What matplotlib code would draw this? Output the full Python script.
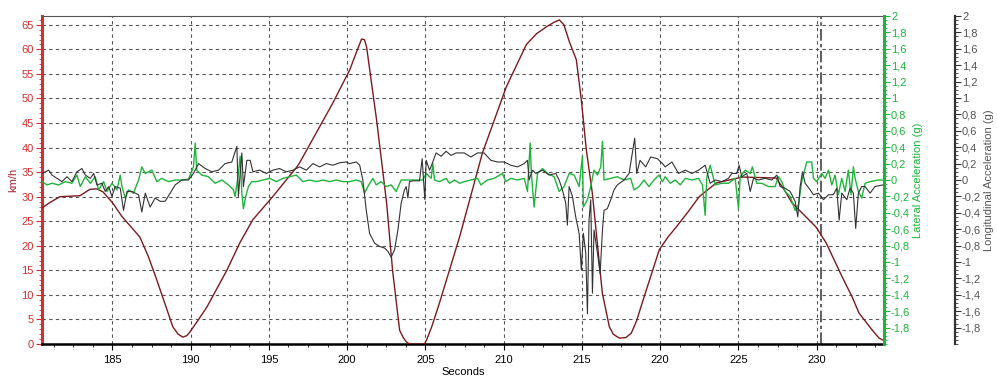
import matplotlib
matplotlib.use("Agg")
from matplotlib import pyplot as plt
from matplotlib.ticker import MultipleLocator, FuncFormatter
import numpy as np

plt.rcParams['font.family'] = ['Liberation Sans', 'DejaVu Sans']

# speed trace (km/h)
speed_t = [180.5, 181.0, 181.65, 182.93, 183.56, 184.0, 184.39, 185.0, 185.6, 186.75,
           187.3, 187.84, 188.4, 188.86, 189.2, 189.5, 189.75, 189.94, 190.4, 191.03,
           192.31, 193.14, 193.97, 195.24, 196.77, 196.96, 199.07, 200.16, 200.6, 200.92,
           201.1, 201.24, 201.88, 202.52, 202.9, 203.35, 203.6, 203.79, 204.0, 204.94,
           205.07, 205.4, 205.9, 207.18, 208.64, 210.17, 211.45, 212.1, 212.73, 213.2,
           213.56, 213.85, 214.2, 214.64, 214.96, 215.28, 215.66, 215.98, 216.3, 216.75,
           217.0, 217.39, 217.8, 218.15, 218.5, 218.85, 219.94, 220.5, 221.02, 221.8,
           222.49, 223.58, 225.24, 227.41, 227.9, 228.43, 229.06, 229.96, 230.6, 231.62,
           232.26, 232.7, 233.53, 233.98, 234.23]
speed = [27.7, 28.8, 30.0, 30.2, 31.5, 31.6, 31.0, 28.8, 26.0, 21.8,
         17.8, 13.0, 7.8, 3.5, 2.0, 1.4, 1.7, 2.4, 4.5, 7.5,
         15.0, 20.6, 25.3, 30.0, 36.0, 36.9, 49.0, 55.8, 59.5, 62.1,
         62.0, 60.5, 45.6, 28.7, 15.0, 2.8, 1.2, 0.4, 0.0, 0.0,
         0.8, 3.5, 8.4, 21.8, 38.9, 52.4, 61.0, 63.2, 64.6, 65.5,
         66.0, 65.0, 61.5, 57.9, 49.7, 39.5, 30.8, 20.6, 10.4, 3.5,
         2.0, 1.2, 1.3, 2.2, 4.8, 8.4, 19.2, 21.8, 23.8, 27.0,
         30.0, 32.8, 34.0, 33.8, 31.5, 28.7, 26.7, 23.8, 20.6, 13.7,
         9.6, 6.3, 2.9, 1.2, 0.8]

# longitudinal acceleration (g)
lon_t = [180.5, 180.93, 181.14, 181.46, 181.78, 182.1, 182.41, 182.73, 183.05, 183.27,
         183.59, 183.8, 184.01, 184.33, 184.54, 184.76, 184.97, 185.18, 185.5, 185.71,
         185.93, 186.24, 186.67, 186.88, 187.1, 187.41, 187.73, 188.05, 188.37, 188.69,
         189.01, 189.43, 189.86, 190.18, 190.5, 190.93, 191.35, 191.78, 192.2, 192.63,
         192.95, 193.05, 193.27, 193.37, 193.59, 193.8, 193.98, 194.41, 194.83, 195.26,
         195.68, 196.11, 196.54, 196.96, 197.39, 197.81, 198.24, 198.66, 199.09, 199.51,
         199.94, 200.15, 200.58, 200.8, 201.0, 201.22, 201.43, 201.75, 202.07, 202.39,
         202.6, 202.81, 203.03, 203.24, 203.45, 203.66, 203.77, 203.88, 203.98, 204.2,
         204.62, 204.79, 204.88, 204.96, 205.05, 205.26, 205.47, 205.68, 206.0, 206.32,
         206.64, 206.96, 207.48, 207.9, 208.33, 208.75, 209.18, 209.6, 210.03, 210.45,
         210.88, 211.31, 211.52, 211.62, 211.84, 212.05, 212.48, 212.9, 213.33, 213.54,
         213.75, 213.96, 214.07, 214.18, 214.39, 214.6, 214.82, 214.96, 215.09, 215.24,
         215.35, 215.45, 215.56, 215.67, 215.77, 215.99, 216.16, 216.31, 216.41, 216.62,
         216.84, 217.05, 217.26, 217.69, 218.01, 218.22, 218.37, 218.5, 218.71, 219.07,
         219.39, 219.82, 220.14, 220.32, 220.75, 221.17, 221.6, 222.02, 222.45, 222.87,
         223.19, 223.51, 223.94, 224.36, 224.58, 224.89, 225.04, 225.21, 225.53, 225.75,
         225.96, 226.28, 226.7, 227.13, 227.45, 227.66, 227.98, 228.3, 228.62, 228.79,
         228.94, 229.09, 229.26, 229.58, 229.79, 230.11, 230.43, 230.75, 231.06, 231.28,
         231.43, 231.6, 231.92, 232.13, 232.34, 232.49, 232.66, 232.87, 233.09, 233.41,
         233.72, 234.23]
lon_g = [0.08, 0.12, 0.06, 0.02, -0.02, 0.04, -0.02, 0.10, 0.14, 0.06,
         0.02, 0.08, -0.06, -0.04, -0.14, -0.08, -0.20, -0.08, -0.10, -0.37,
         -0.14, -0.14, -0.18, -0.39, -0.16, -0.33, -0.22, -0.26, -0.26, -0.16,
         -0.06, 0.0, 0.0, 0.08, 0.20, 0.14, 0.10, 0.12, 0.20, 0.22,
         0.41, -0.20, 0.33, -0.08, 0.24, 0.24, 0.10, 0.12, 0.08, 0.12,
         0.14, 0.10, 0.12, 0.16, 0.12, 0.20, 0.16, 0.20, 0.18, 0.21,
         0.22, 0.20, 0.22, 0.18, 0.0, -0.37, -0.65, -0.77, -0.81, -0.83,
         -0.87, -0.94, -0.85, -0.61, -0.28, -0.12, -0.08, -0.22, -0.02, -0.01,
         -0.01, 0.26, 0.0, -0.24, 0.24, 0.12, 0.22, 0.33, 0.29, 0.35,
         0.30, 0.33, 0.33, 0.28, 0.33, 0.33, 0.24, 0.22, 0.22, 0.18,
         0.16, 0.20, 0.24, 0.0, 0.12, 0.08, 0.12, 0.06, 0.08, 0.0,
         -0.12, -0.28, -0.55, -0.08, -0.20, -0.45, -0.65, -1.10, -0.65, -0.89,
         -1.63, -0.49, -0.24, -1.38, -0.61, -0.89, -1.14, -0.61, -0.37, -0.35,
         -0.24, -0.12, -0.06, 0.0, 0.08, 0.33, 0.51, 0.08, 0.24, 0.16,
         0.28, 0.26, 0.20, 0.16, 0.22, 0.08, 0.12, 0.08, 0.12, 0.18,
         -0.04, 0.0, -0.02, 0.02, 0.08, 0.08, 0.18, 0.04, 0.08, -0.14,
         0.02, 0.0, 0.02, 0.0, 0.06, -0.08, -0.10, -0.14, -0.26, -0.45,
         -0.08, 0.10, -0.04, -0.12, -0.18, -0.16, -0.24, -0.18, -0.18, -0.10,
         -0.49, -0.16, -0.24, -0.10, -0.16, -0.59, -0.16, -0.08, -0.08, -0.16,
         -0.08, -0.06]

# lateral acceleration (g)
lat_t = [180.5, 180.82, 181.14, 181.56, 181.99, 182.41, 182.73, 182.95, 183.27, 183.59,
         183.9, 184.12, 184.44, 184.65, 184.97, 185.29, 185.5, 185.61, 185.82, 186.03,
         186.35, 186.67, 186.88, 187.1, 187.31, 187.52, 187.84, 188.16, 188.59, 189.01,
         189.44, 189.86, 190.18, 190.29, 190.39, 190.71, 191.14, 191.56, 191.99, 192.41,
         192.73, 192.84, 193.05, 193.16, 193.27, 193.37, 193.52, 193.69, 193.9, 194.2,
         194.62, 195.05, 195.47, 195.9, 196.32, 196.75, 197.17, 197.6, 198.03, 198.45,
         198.88, 199.3, 199.73, 200.15, 200.58, 200.9, 201.11, 201.32, 201.64, 201.86,
         202.17, 202.49, 202.81, 203.13, 203.45, 203.77, 204.62, 204.83, 205.05, 205.37,
         205.47, 205.58, 205.9, 206.32, 206.54, 206.85, 207.18, 207.48, 207.9, 208.33,
         208.54, 208.96, 209.39, 209.92, 210.13, 210.45, 210.88, 211.31, 211.52, 211.69,
         211.77, 211.94, 212.16, 212.48, 212.8, 213.22, 213.54, 213.86, 214.18, 214.5,
         214.82, 215.03, 215.09, 215.35, 215.56, 215.77, 215.99, 216.2, 216.31, 216.41,
         216.84, 217.26, 217.69, 218.11, 218.33, 218.65, 218.96, 219.28, 219.6, 219.92,
         220.14, 220.32, 220.64, 220.96, 221.28, 221.6, 222.02, 222.45, 222.7, 222.87,
         222.98, 223.19, 223.51, 223.94, 224.36, 224.79, 225.0, 225.11, 225.43, 225.75,
         225.89, 226.17, 226.49, 226.92, 227.34, 227.55, 227.77, 227.98, 228.3, 228.62,
         228.83, 229.04, 229.36, 229.68, 229.79, 230.0, 230.32, 230.53, 230.75, 230.96,
         231.17, 231.38, 231.6, 231.81, 232.02, 232.19, 232.34, 232.45, 232.66, 232.87,
         233.09, 233.41, 233.94, 234.23]
lat_g = [-0.02, -0.06, -0.04, -0.06, -0.02, -0.04, 0.06, -0.08, 0.04, -0.04,
         0.04, -0.12, -0.02, -0.14, -0.04, -0.12, 0.06, -0.08, -0.22, -0.12,
         -0.16, 0.0, 0.16, 0.08, 0.10, 0.12, -0.02, 0.02, -0.02, 0.0,
         0.0, 0.01, 0.16, 0.45, 0.12, 0.06, 0.04, -0.04, 0.0, -0.06,
         -0.12, -0.20, 0.08, 0.29, -0.16, -0.35, -0.20, -0.08, -0.02, -0.02,
         0.0, 0.02, -0.02, 0.02, 0.04, 0.06, -0.02, 0.0, -0.02, 0.0,
         -0.02, 0.0, -0.02, -0.02, 0.0, -0.02, -0.16, -0.08, 0.02, -0.06,
         -0.02, -0.08, -0.06, -0.14, 0.0, 0.0, 0.0, 0.0, 0.08, 0.02,
         0.20, 0.0, -0.02, 0.02, -0.04, 0.0, -0.04, -0.02, 0.0, 0.02,
         -0.06, 0.0, 0.02, 0.08, -0.02, 0.02, 0.0, 0.02, -0.14, 0.45,
         0.08, -0.33, 0.08, 0.14, 0.08, 0.04, -0.14, -0.08, 0.08, 0.06,
         -0.08, 0.29, -0.33, -0.24, -0.08, 0.12, 0.06, 0.16, 0.47, 0.0,
         0.02, 0.04, 0.0, 0.02, -0.12, -0.08, 0.0, -0.08, 0.0, 0.06,
         -0.02, 0.04, -0.04, 0.0, -0.06, 0.02, 0.0, 0.02, -0.06, -0.43,
         0.04, 0.18, -0.06, -0.04, -0.04, 0.02, -0.35, 0.04, 0.12, 0.08,
         0.16, -0.04, -0.04, -0.08, -0.08, 0.04, -0.02, -0.14, -0.20, -0.37,
         -0.30, -0.02, 0.22, 0.22, 0.02, -0.02, 0.08, 0.02, 0.12, -0.06,
         0.06, -0.18, 0.02, -0.14, 0.12, -0.18, 0.16, 0.02, -0.14, -0.22,
         -0.04, -0.02, 0.0, 0.0]

cursor_t = 230.25

def comma_fmt(v, pos):
    s = f"{v:.1f}".rstrip("0").rstrip(".")
    if s == "-0":
        s = "0"
    return s.replace(".", ",")

red = "#d03030"
dark_red = "#7d1a1f"
green = "#1fb43c"
grey = "#333333"

fig = plt.figure(figsize=(9.97, 3.77), dpi=100)
ax = fig.add_axes([0.0421, 0.0875, 0.8446, 0.8701])
ax2 = ax.twinx()
ax3 = ax.twinx()

ax.plot(speed_t, speed, color=dark_red, lw=1.0, zorder=3)
ax3.plot(lon_t, lon_g, color=grey, lw=0.8)
ax2.plot(lat_t, lat_g, color=green, lw=1.0)
ax.axvline(cursor_t, color="#444444", lw=1.2, dashes=(7, 2, 2, 2), zorder=2)

ax.set_xlim(180.5, 234.3)
ax.set_ylim(0, 66.8)
ax2.set_ylim(-2, 2)
ax3.set_ylim(-2, 2)

ax.xaxis.set_major_locator(MultipleLocator(5))
ax.xaxis.set_minor_locator(MultipleLocator(1.25))
ax.yaxis.set_major_locator(MultipleLocator(5))
ax.yaxis.set_minor_locator(MultipleLocator(1))
ax.grid(True, which="major", color="#555555", lw=0.8, dashes=(3, 3))

ticks = np.round(np.arange(-1.8, 2.01, 0.2), 1)
for a in (ax2, ax3):
    a.set_yticks(ticks)
    a.yaxis.set_minor_locator(MultipleLocator(0.05))
    a.yaxis.set_major_formatter(FuncFormatter(comma_fmt))

ax3.spines["right"].set_position(("axes", 1.0843))

ax.spines["top"].set_color("#555555")
ax.spines["left"].set_color(red)
ax.spines["left"].set_linewidth(2.2)
ax.spines["bottom"].set_color("black")
ax.spines["bottom"].set_linewidth(1.8)
ax2.spines["right"].set_color(green)
ax2.spines["right"].set_linewidth(2.2)
ax3.spines["right"].set_color(grey)
ax3.spines["right"].set_linewidth(1.6)
for a in (ax2, ax3):
    a.spines["left"].set_visible(False)
    a.spines["top"].set_visible(False)
    a.spines["bottom"].set_visible(False)

ax.tick_params(axis="y", which="major", colors=red, labelsize=8, length=4, width=0.8, pad=2)
ax.tick_params(axis="y", which="minor", colors=red, length=2, width=0.6)
ax.tick_params(axis="x", which="major", labelsize=8, length=4, pad=4)
ax.tick_params(axis="x", which="minor", length=2.5)
ax2.tick_params(axis="y", which="major", colors=green, labelsize=8, length=4, pad=1)
ax2.tick_params(axis="y", which="minor", colors=green, length=2)
ax3.tick_params(axis="y", which="major", colors=grey, labelcolor="#555555", labelsize=8, length=4, pad=1)
ax3.tick_params(axis="y", which="minor", colors=grey, length=2)

ax.set_ylabel("km/h", color="#a02830", fontsize=8, labelpad=2)
ax.set_xlabel("Seconds", fontsize=8, labelpad=1)
ax2.set_ylabel("Lateral Acceleration (g)", color=green, fontsize=8, labelpad=2)
ax3.set_ylabel("Longitudinal Acceleration (g)", color="#555555", fontsize=8, labelpad=2)

fig.savefig("out.png", dpi=100)
